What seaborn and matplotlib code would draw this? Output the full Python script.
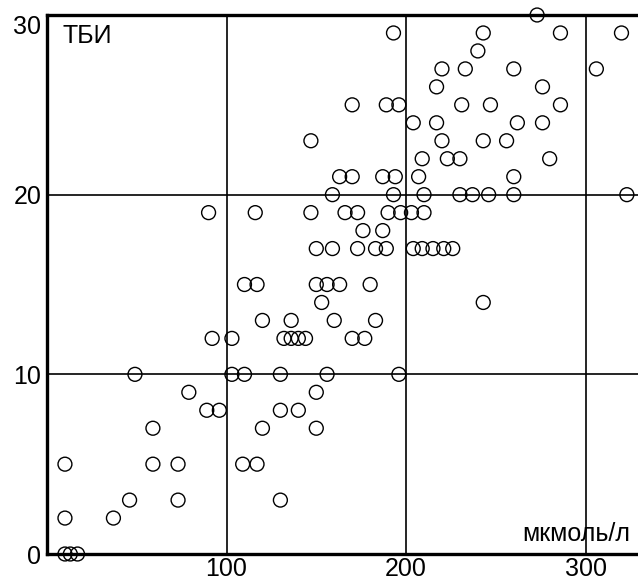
import matplotlib
matplotlib.use("Agg")
import matplotlib.pyplot as plt
import seaborn as sns
import pandas as pd

# Data (x: мкмоль/л, y: ТБИ)
x_vals = [273,
          193, 243, 286, 320,
          240,
          220, 233, 260, 306,
          217, 276,
          170, 189, 196, 231, 247, 286,
          204, 217, 262, 276,
          147, 220, 243, 256,
          209, 223, 230, 280,
          163, 170, 187, 194, 207, 260,
          159, 193, 210, 230, 237, 246, 260, 323,
          90, 116, 147, 166, 173, 190, 197, 203, 210,
          176, 187,
          150, 159, 173, 183, 189, 204, 209, 215, 221, 226,
          110, 117, 150, 156, 163, 180,
          153, 243,
          120, 136, 160, 183,
          92, 103, 132, 136, 140, 144, 170, 177,
          49, 103, 110, 130, 156, 196,
          79, 150,
          89, 96, 130, 140,
          59, 120, 150,
          10, 59, 73, 109, 117,
          46, 73, 130,
          10, 37,
          10, 13, 17]
y_vals = ([30] * 1 + [29] * 4 + [28] * 1 + [27] * 4 + [26] * 2 + [25] * 6 +
          [24] * 4 + [23] * 4 + [22] * 4 + [21] * 6 + [20] * 8 + [19] * 9 +
          [18] * 2 + [17] * 10 + [15] * 6 + [14] * 2 + [13] * 4 + [12] * 8 +
          [10] * 6 + [9] * 2 + [8] * 4 + [7] * 3 + [5] * 5 + [3] * 3 +
          [2] * 2 + [0] * 3)

x_ticks = [100, 200, 300]
y_ticks = [0, 10, 20, 30]
y_label = "ТБИ"
x_label = "мкмоль/л"

df = pd.DataFrame({"x": x_vals, "y": y_vals})

sns.set_style("white")
plt.rcParams["font.family"] = ["Liberation Sans", "DejaVu Sans"]

fig = plt.figure(figsize=(6.38, 5.82), dpi=100)
ax = fig.add_axes([47 / 638, 28 / 582, 591 / 638, 539 / 582])

ax.set_xlim(0, 329.2)
ax.set_ylim(0, 30)

for t in x_ticks:
    ax.axvline(t, color="black", lw=1.2, zorder=1)
for t in y_ticks[1:3]:
    ax.axhline(t, color="black", lw=1.2, zorder=1)

sns.scatterplot(data=df, x="x", y="y", ax=ax, marker="o", s=100,
                facecolor="none", edgecolor="black", linewidth=1.0,
                clip_on=False, zorder=3, legend=False)

ax.set_xticks(x_ticks)
ax.set_yticks(y_ticks)
ax.set_xticklabels([str(t) for t in x_ticks], fontsize=18)
ax.set_yticklabels([str(t) for t in y_ticks], fontsize=18)
ax.tick_params(axis="both", length=0, colors="black")
ax.tick_params(axis="x", pad=2)
ax.tick_params(axis="y", pad=4)
ax.get_yticklabels()[-1].set_verticalalignment("top")
ax.get_yticklabels()[-1].set_y(30.3)
ax.set_xlabel("")
ax.set_ylabel("")

for side in ["left", "top", "bottom"]:
    ax.spines[side].set_visible(True)
    ax.spines[side].set_linewidth(2.4)
    ax.spines[side].set_color("black")
ax.spines["right"].set_visible(False)

ax.text(0.027, 0.983, y_label, transform=ax.transAxes, ha="left", va="top",
        fontsize=18, color="black")
ax.text(0.9865, 0.024, x_label, transform=ax.transAxes, ha="right",
        va="baseline", fontsize=18, color="black")

fig.savefig("out.png", dpi=100, facecolor="white")
